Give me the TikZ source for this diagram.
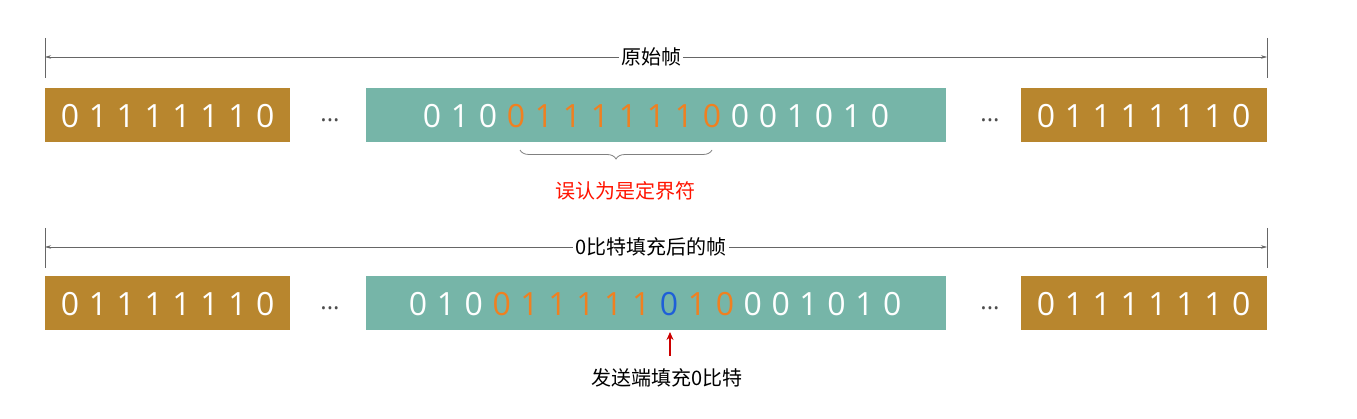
\documentclass[tikz,border=0pt]{standalone}
\usepackage{fontspec}
\setmainfont{Open Sans}
\newfontfamily\cjk{Noto Sans CJK SC}
\usetikzlibrary{decorations.pathreplacing,arrows.meta}
\definecolor{gold}{HTML}{B8862E}
\definecolor{teal}{HTML}{76B5A8}
\definecolor{org}{HTML}{F08020}
\definecolor{blu}{HTML}{1E5FD8}
\tikzset{
 gbox/.style={fill=gold,draw=none},
 tbox/.style={fill=teal,draw=none},
 dig/.style={font=\fontsize{32}{32}\selectfont,inner sep=0},
 lbl/.style={font=\cjk\fontsize{20}{20}\selectfont,fill=white,inner sep=2pt},
 dim/.style={draw=gray!80!black,line width=0.6pt,{Stealth[length=6pt,width=3.5pt]}-{Stealth[length=6pt,width=3.5pt]}},
}
\begin{document}
\begin{tikzpicture}[x=1pt,y=-1pt]
\useasboundingbox (0,0) rectangle (1357,419);
\foreach \yy/\lab/\nm in {57/原始帧/a,247/0比特填充后的帧/b}{
  \coordinate (L\nm) at (45,\yy); \coordinate (R\nm) at (1267,\yy);
  \draw[gray!80!black,line width=0.6pt] (45,\yy-19) -- (45,\yy+21) (1267,\yy-19) -- (1267,\yy+21);
  \draw[dim] (L\nm) -- (R\nm);
  \node[lbl] (t\nm) at (651,\yy) {\lab};
}
\foreach \yt/\nm in {88/a,276/b}{
  \node[gbox,minimum width=245,minimum height=54,anchor=north west] (gl\nm) at (45,\yt) {};
  \node[tbox,minimum width=580,minimum height=54,anchor=north west] (tm\nm) at (366,\yt) {};
  \node[gbox,minimum width=246,minimum height=54,anchor=north west] (gr\nm) at (1021,\yt) {};
  \node[font=\fontsize{24}{24}\selectfont,text=black!70] (d1\nm) at (330,\yt+32) {...};
  \node[font=\fontsize{24}{24}\selectfont,text=black!70] (d2\nm) at (990,\yt+32) {...};
  \foreach \d [count=\i from 0] in {0,1,1,1,1,1,1,0}{
    \node[dig,text=white] at (70+\i*27.9,\yt+28) {\d};
    \node[dig,text=white] at (1046+\i*27.9,\yt+28) {\d};
  }
}
\foreach \d/\c [count=\i from 0] in {0/white,1/white,0/white,0/org,1/org,1/org,1/org,1/org,1/org,1/org,0/org,0/white,0/white,1/white,0/white,1/white,0/white}{
  \node[dig,text=\c] at (432+\i*28,116) {\d};
}
\foreach \d/\c [count=\i from 0] in {0/white,1/white,0/white,0/org,1/org,1/org,1/org,1/org,1/org,0/blu,1/org,0/org,0/white,0/white,1/white,0/white,1/white,0/white}{
  \node[dig,text=\c] at (418+\i*27.9,304) {\d};
}
\coordinate (b1) at (520,150); \coordinate (b2) at (712,150);
\draw[gray,line width=0.8pt,decorate,decoration={brace,mirror,amplitude=9pt}] (b1) -- (b2);
\node[font=\cjk\fontsize{20}{20}\selectfont,text=red!85!orange] (w) at (625,191) {误认为是定界符};
\coordinate (ar) at (670,356);
\coordinate (at) at (670,332);
\draw[red!80!black,line width=1.3pt,-{Stealth[length=8pt,width=7pt]}] (ar) -- (at);
\node[font=\cjk\fontsize{20}{20}\selectfont] (s) at (667,378) {发送端填充0比特};
\end{tikzpicture}
\end{document}
